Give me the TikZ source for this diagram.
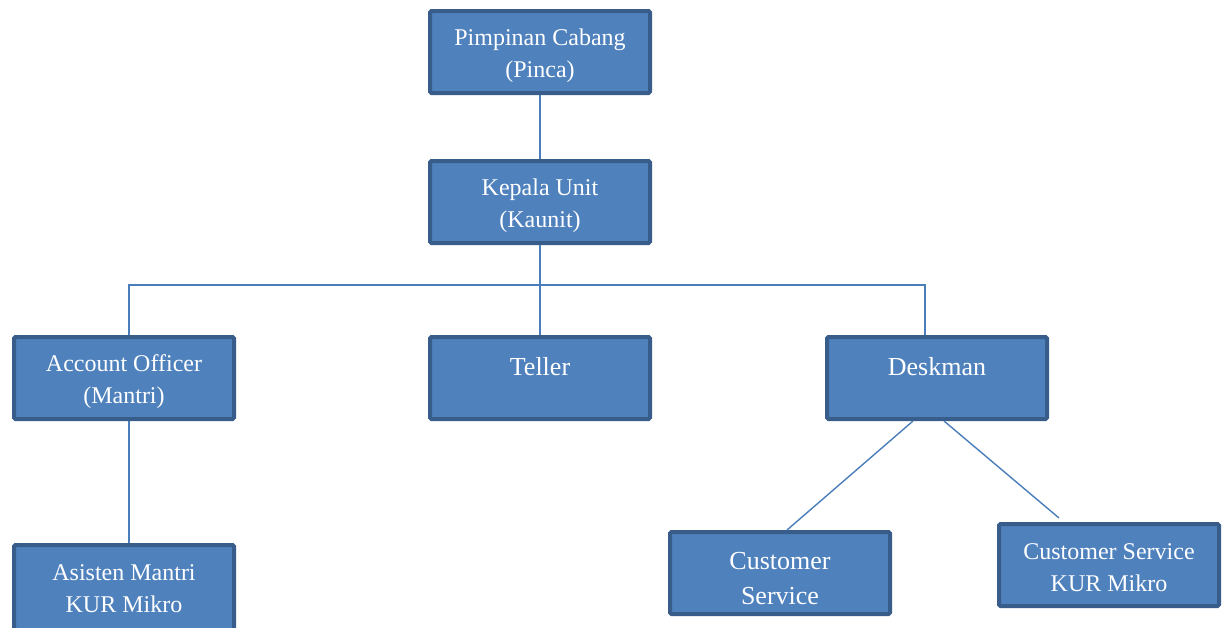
\documentclass[tikz,border=0pt]{standalone}
\usepackage{fontspec}
\setmainfont{Liberation Serif}
\definecolor{boxfill}{HTML}{4F81BD}
\definecolor{boxline}{HTML}{385D8A}
\definecolor{conn}{HTML}{4A7EBB}
\tikzset{
  orgbox/.style={draw=boxline, line width=4pt, fill=boxfill,
    minimum width=220pt, minimum height=82pt, inner sep=0pt,
    rounded corners=1.5pt},
  lbl/.style={text=white, align=center, inner sep=0pt,
    font=\fontsize{24}{32}\selectfont},
  biglbl/.style={lbl, font=\fontsize{26}{35}\selectfont},
  link/.style={draw=conn, line width=1.4pt}
}
\begin{document}
\begin{tikzpicture}[x=1pt,y=-1pt]
\useasboundingbox (0,0) rectangle (1230,627);
\node[orgbox, label={[lbl,yshift=-4pt]center:{Pimpinan Cabang\\(Pinca)}}] (pinca) at (540,52) {};
\node[orgbox, label={[lbl,yshift=-4pt]center:{Kepala Unit\\(Kaunit)}}] (kaunit) at (540,202) {};
\node[orgbox, label={[lbl,yshift=-4pt]center:{Account Officer\\(Mantri)}}] (ao) at (124,378) {};
\node[orgbox, label={[biglbl,yshift=11pt]center:{Teller}}] (teller) at (540,378) {};
\node[orgbox, label={[biglbl,yshift=11pt]center:{Deskman}}] (desk) at (937,378) {};
\node[orgbox, minimum height=90pt, label={[lbl,yshift=1pt]center:{Asisten Mantri\\KUR Mikro}}] (am) at (124,590) {};
\node[orgbox, label={[biglbl,yshift=-6pt]center:{Customer\\Service}}] (cs) at (780,573) {};
\node[orgbox, label={[lbl,yshift=-3pt]center:{Customer Service\\KUR Mikro}}] (csk) at (1109,565) {};
\coordinate (bus) at (540,285);
\draw[link] (pinca.south) -- (kaunit.north);
\draw[link] (kaunit.south) -- (teller.north);
\draw[link] ([xshift=5pt]ao.north) |- (bus) -| ([xshift=-12pt]desk.north);
\draw[link] ([xshift=5pt]ao.south) -- ([xshift=5pt]am.north);
\draw[link] ([xshift=-24pt]desk.south) -- ([xshift=7pt]cs.north);
\draw[link] ([xshift=7pt]desk.south) -- ([xshift=-50pt,yshift=4pt]csk.north);
\end{tikzpicture}
\end{document}
